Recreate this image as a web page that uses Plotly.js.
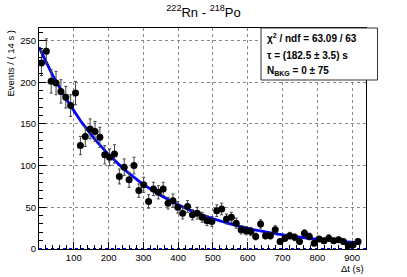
<!DOCTYPE html>
<html>
<head>
<meta charset="utf-8">
<script src="https://cdn.plot.ly/plotly-3.0.1.min.js"></script>
<style>html,body{margin:0;padding:0;background:#fff;}#chart{width:407px;height:277px;}</style>
</head>
<body>
<div id="chart"></div>
<script>
// Bin centres (s), 14 s bins
var binCenters = [7,21,35,49,63,77,91,105,119,133,147,161,175,189,203,217,231,245,259,273,287,301,315,329,343,357,371,385,399,413,427,441,455,469,483,497,511,525,539,553,567,581,595,609,623,637,651,665,679,693,707,721,735,749,763,777,791,805,819,833,847,861,875,889,903,917];
// Events per bin
var counts = [223,237,201,199,189,182,172,187,124,135,144,141,134,113,110,114,87,98,83,100,70,77,57,72,68,72,55,58,50,43,51,41,43,38,34,33,46,48,36,38,31,23,22,21,15,30,16,16,23,9,13,16,14,9,19,15,7,12,10,13,10,11,9,4,5,9];
// Error bars (events)
var errors = [15,15,14,14,14,13,13,14,11,12,12,12,12,11,10,11,9,10,9,10,8,9,8,8,8,8,7,8,7,7,7,6,7,6,6,6,7,7,6,6,6,5,5,5,4,5,4,4,5,3,4,4,4,3,4,4,3,3,3,4,3,3,3,2,2,3];
// Fit parameters
var fitAmplitude = 242;   // events / bin at t = 0
var fitTau = 182.5;       // half-life (s)
var fitBkg = 0;
var xRange = [0, 940];
var yRange = [0, 265];
var xTickVals = [100,200,300,400,500,600,700,800,900];
var xTickText = ['100','200','300','400','500','600','700','800','900'];
var yTickVals = [0,50,100,150,200,250];
var yTickText = ['0','50','100','150','200','250'];
var statLines = ['<b>\u03c7<sup>2</sup> / ndf = 63.09 / 63</b>', '<b>\u03c4 = (182.5 \u00b1 3.5) s</b>', '<b>N<sub>BKG</sub> = 0 \u00b1 75</b>'];

// model curve from fit parameters
var curveX = [], curveY = [];
for (var t = 0; t <= 926; t += 2) { curveX.push(t); curveY.push(fitAmplitude * Math.pow(2, -t / fitTau) + fitBkg); }

var FONT = 'Liberation Sans, Arial, Helvetica, sans-serif';
var traces = [
  {x: xRange, y: [fitBkg, fitBkg], mode: 'lines', line: {color: '#0000ff', width: 2, dash: '3px,3px'}, cliponaxis: false, hoverinfo: 'skip'},
  {x: curveX, y: curveY, mode: 'lines', line: {color: '#0000ff', width: 2.8}, hoverinfo: 'skip'},
  {x: binCenters, y: counts, mode: 'markers', marker: {color: '#000', size: 7},
   error_y: {type: 'data', array: errors, visible: true, color: '#444', thickness: 1, width: 1.5}}
];

var pxX = function(p){ return (p - 39) / 327; };
var pxY = function(p){ return (249 - p) / 221; };

var annotations = [
  {text: 'Events / ( 14 s )', xref: 'paper', yref: 'paper', x: pxX(10), y: 1, xanchor: 'center', yanchor: 'top', textangle: -90, showarrow: false, font: {family: FONT, size: 9.5, color: '#000'}},
  {text: '\u0394t (s)', xref: 'paper', yref: 'paper', x: 1, y: pxY(268), xanchor: 'right', yanchor: 'middle', showarrow: false, font: {family: FONT, size: 9.5, color: '#000'}}
];
var statY = [38, 55, 71];
for (var i = 0; i < statLines.length; i++) {
  annotations.push({text: statLines[i], xref: 'paper', yref: 'paper', x: pxX(265), y: pxY(statY[i]), xanchor: 'left', yanchor: 'middle', showarrow: false, font: {family: FONT, size: 10, color: '#000'}});
}

var axisCommon = {
  showline: true, linecolor: '#000', linewidth: 1, mirror: true,
  ticks: 'inside', ticklen: 7, tickcolor: '#000', tickwidth: 1,
  showgrid: true, gridcolor: '#888', gridwidth: 1, griddash: 'dot',
  zeroline: false, tickfont: {family: FONT, size: 9.5, color: '#000'},
  tickmode: 'array', fixedrange: true
};

var layout = {
  width: 407, height: 277,
  margin: {l: 39, r: 41, t: 28, b: 28},
  paper_bgcolor: '#fff', plot_bgcolor: '#fff',
  showlegend: false,
  title: {text: '<sup>222</sup>Rn - <sup>218</sup>Po', x: 0.5, xref: 'container', xanchor: 'center', y: 1 - 12/277, yref: 'container', yanchor: 'middle', font: {family: FONT, size: 13, color: '#000'}},
  xaxis: Object.assign({}, axisCommon, {range: xRange, tickvals: xTickVals, ticktext: xTickText,
    minor: {tickmode: 'linear', tick0: 0, dtick: 20, ticks: 'inside', ticklen: 4, tickcolor: '#000', showgrid: false}}),
  yaxis: Object.assign({}, axisCommon, {range: yRange, tickvals: yTickVals, ticktext: yTickText,
    minor: {tickmode: 'linear', tick0: 0, dtick: 10, ticks: 'inside', ticklen: 4, tickcolor: '#000', showgrid: false}}),
  shapes: [
    {type: 'rect', xref: 'paper', yref: 'paper', x0: pxX(261), x1: pxX(377.5), y0: pxY(80), y1: pxY(28), line: {color: '#333', width: 1}, fillcolor: '#fff', layer: 'above'}
  ],
  annotations: annotations
};

Plotly.newPlot('chart', traces, layout, {staticPlot: true, displayModeBar: false});
</script>
</body>
</html>
